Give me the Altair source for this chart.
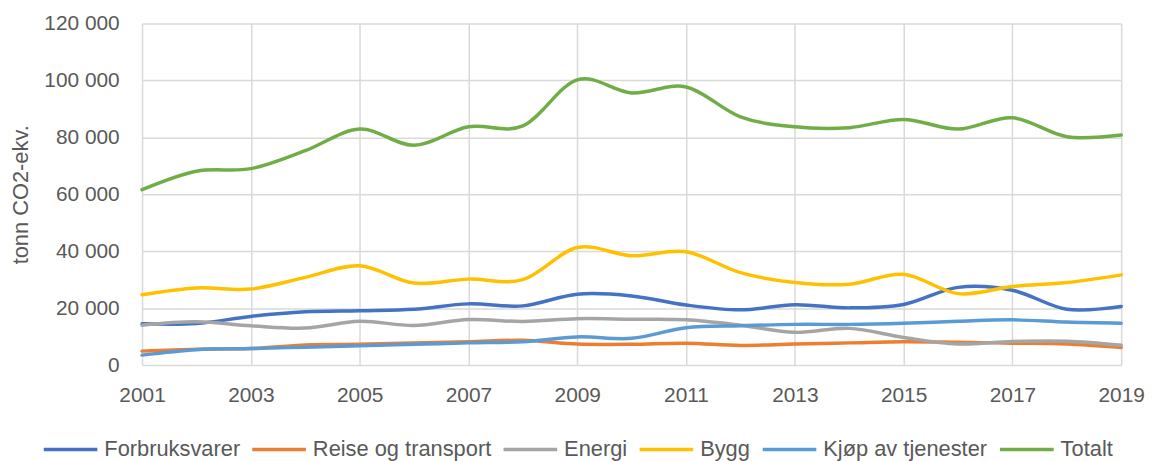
import altair as alt
import pandas as pd

years = list(range(2001, 2020))
series = ["Forbruksvarer", "Reise og transport", "Energi", "Bygg", "Kjøp av tjenester", "Totalt"]
colors = ["#4472C4", "#ED7D31", "#A5A5A5", "#FFC000", "#5B9BD5", "#70AD47"]

forbruk = [14500, 14600, 17100, 18700, 19100, 19600, 21500, 20800, 24900, 24300, 21100, 19400, 21200, 20100, 21300, 27300, 26300, 19600, 20600]
reise = [4900, 5600, 5800, 7100, 7300, 7800, 8200, 8700, 7400, 7300, 7700, 6900, 7400, 7800, 8200, 8000, 7700, 7400, 6200]
energi = [14000, 15200, 13800, 13000, 15400, 13900, 16000, 15300, 16300, 16100, 15900, 14000, 11500, 12900, 9700, 7400, 8300, 8400, 7000]
bygg = [24700, 27100, 26700, 30800, 34900, 28800, 30200, 30000, 41300, 38400, 39800, 32500, 29000, 28400, 31900, 25100, 27600, 29000, 31700]
kjop = [3500, 5400, 5800, 6300, 6800, 7300, 7800, 8200, 9900, 9400, 13100, 13800, 14300, 14300, 14700, 15400, 15900, 15100, 14700]
totalt = [61600, 68100, 69000, 75300, 82900, 77200, 83700, 84000, 100200, 95600, 97700, 87200, 83700, 83400, 86300, 82900, 86900, 80200, 80800]

values = [forbruk, reise, energi, bygg, kjop, totalt]
rows = []
for i, (name, vals) in enumerate(zip(series, values)):
    for y, v in zip(years, vals):
        rows.append({"år": y, "verdi": v, "serie": name, "ord": i})
df = pd.DataFrame(rows)

FONT = "Liberation Sans"
TXT = "#595959"
GRID = "#D9D9D9"

chart = (
    alt.Chart(df)
    .mark_line(interpolate="cardinal", strokeWidth=3.5, strokeCap="round")
    .encode(
        x=alt.X(
            "år:Q",
            scale=alt.Scale(domain=[2001, 2019], nice=False, zero=False),
            axis=alt.Axis(
                values=list(range(2001, 2020, 2)),
                format="d",
                title=None,
                grid=True,
                gridColor=GRID,
                gridWidth=1.5,
                domain=False,
                ticks=False,
                labelFont=FONT,
                labelFontSize=21,
                labelColor=TXT,
                labelPadding=20,
                labelFlush=False,
            ),
        ),
        y=alt.Y(
            "verdi:Q",
            scale=alt.Scale(domain=[0, 120000], nice=False),
            axis=alt.Axis(
                values=list(range(0, 120001, 20000)),
                labelExpr="replace(format(datum.value, ','), /,/g, ' ')",
                title="tonn CO2-ekv.",
                titleFont=FONT,
                titleFontSize=22,
                titleFontWeight="normal",
                titleColor=TXT,
                titleX=-110,
                titleY=172,
                titleAngle=270,
                titleAlign="center",
                titleBaseline="bottom",
                grid=True,
                gridColor=GRID,
                gridWidth=1.5,
                domain=False,
                ticks=False,
                labelFont=FONT,
                labelFontSize=21,
                labelColor=TXT,
                labelPadding=23,
            ),
        ),
        color=alt.Color(
            "serie:N",
            scale=alt.Scale(domain=series, range=colors),
            sort=series,
            legend=alt.Legend(
                title=None,
                orient="none",
                direction="horizontal",
                columns=6,
                legendX=-101,
                legendY=400,
                symbolType="stroke",
                symbolSize=2916,
                symbolStrokeWidth=3.5,
                labelFont=FONT,
                labelFontSize=22,
                labelColor=TXT,
                labelOffset=5,
                columnPadding=5,
                labelLimit=300,
            ),
        ),
        order=alt.Order("ord:Q"),
        detail="serie:N",
    )
    .properties(
        width=986,
        height=344,
        autosize=alt.AutoSizeParams(type="none"),
        padding={"left": 135, "top": 14, "right": 28, "bottom": 95},
    )
    .configure_view(stroke=None)
)

chart.save("out.html", embed_options={"renderer": "svg", "actions": False})
